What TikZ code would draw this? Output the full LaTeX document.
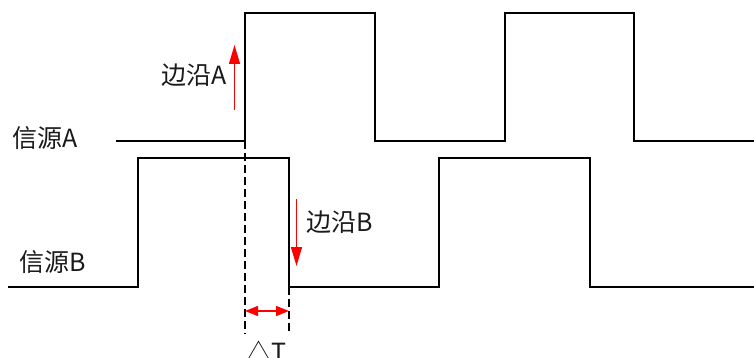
\documentclass[tikz,border=0pt]{standalone}
\usepackage{fontspec}
\setmainfont{Noto Sans CJK SC}
\usetikzlibrary{arrows.meta}
\definecolor{edgered}{HTML}{FF0000}
\definecolor{ink}{HTML}{1A1A1A}

\begin{document}
\begin{tikzpicture}[
  x=1pt, y=-1pt,
  font=\fontsize{25}{28}\selectfont,
  wave/.style ={draw=black, line width=2pt},
  guide/.style={draw=black, line width=1.6pt, dash pattern=on 8pt off 4pt},
  edgearrow/.style={-{Triangle[length=19pt, width=11pt]}, draw=edgered, fill=edgered, line width=1.5pt},
  gaparrow/.style ={{Triangle[length=13pt, width=10pt]}-{Triangle[length=13pt, width=10pt]},
                    draw=edgered, fill=edgered, line width=1.5pt},
  lbl/.style  ={text=ink, inner sep=0pt},
]
  \useasboundingbox (0,0) rectangle (754,358);

  % --- signal A ---
  \draw[wave] (116,141) -- (245,141) -- (245,13) -- (375,13) -- (375,141)
              -- (505,141) -- (505,13) -- (634,13) -- (634,141) -- (754,141);
  % --- signal B ---
  \draw[wave] (8,287) -- (138,287) -- (138,158) -- (289,158) -- (289,287)
              -- (439,287) -- (439,158) -- (590,158) -- (590,287) -- (754,287);

  % --- guides ---
  \coordinate (edgeA) at (245,141);
  \coordinate (edgeB) at (289,287);
  \coordinate (guideA) at (245,334);
  \coordinate (guideB) at (289,334);
  \draw[guide] (edgeA) -- (guideA);
  \draw[guide] (edgeB) -- (guideB);

  % --- edge arrows ---
  \coordinate (riseA0) at (234.5,110);
  \coordinate (riseA1) at (234.5,45);
  \coordinate (fallB0) at (296.5,199);
  \coordinate (fallB1) at (296.5,266);
  \draw[edgearrow] (riseA0) -- (riseA1);
  \draw[edgearrow] (fallB0) -- (fallB1);
  \coordinate (gapL) at (245,311);
  \coordinate (gapR) at (289,311);
  \draw[gaparrow] (gapL) -- (gapR);

  % --- labels ---
  \node[lbl, anchor=west] (srcA)  at (12,138)  {信源A};
  \node[lbl, anchor=west] (srcB)  at (19,262)  {信源B};
  \node[lbl, anchor=east] (labA)  at (227,75)  {边沿A};
  \node[lbl, anchor=west] (labB)  at (306,222) {边沿B};
  \node[lbl, anchor=base] (dT)    at (266,361) {△T};
\end{tikzpicture}
\end{document}
